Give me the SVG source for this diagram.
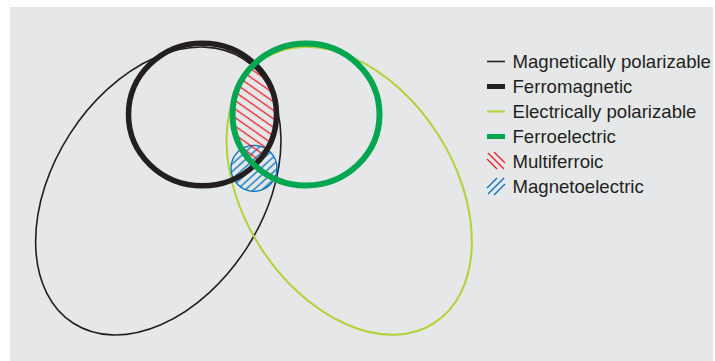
<svg xmlns="http://www.w3.org/2000/svg" width="715" height="361" viewBox="0 0 715 361">
<style>
.thin{fill:none;stroke:#231f20;stroke-width:1.6}
.thick{fill:none;stroke:#231f20;stroke-width:5.5}
.elec{fill:none;stroke:#b2d235;stroke-width:2}
.ferro{fill:none;stroke:#00a650;stroke-width:6}
.lbl{font-family:"Liberation Sans",Arial,Helvetica,sans-serif;font-size:18.6px;fill:#231f20}
.red{stroke:#ed1c24;stroke-width:1.3}
.blue{stroke:#0072bc;stroke-width:1.3}
</style>
<defs>
<pattern id="redHatch" patternUnits="userSpaceOnUse" width="10" height="7" patternTransform="rotate(35)">
<line x1="0" y1="3.5" x2="10" y2="3.5" class="red"/>
</pattern>
<pattern id="blueHatch" patternUnits="userSpaceOnUse" width="10" height="5.6" patternTransform="rotate(-42)">
<line x1="0" y1="2.8" x2="10" y2="2.8" class="blue"/>
</pattern>
<clipPath id="clipGreen">
<ellipse cx="306" cy="114.5" rx="73.5" ry="71"/>
</clipPath>
</defs>
<rect x="10" y="7" width="703" height="354" fill="#e6e7e8"/>
<g id="magnetically-polarizable">
<ellipse class="thin" cx="158.3" cy="191" rx="157.2" ry="105.2" transform="rotate(-57.3 158.3 191)"/>
</g>
<g id="electrically-polarizable">
<ellipse class="elec" cx="349.2" cy="190.8" rx="157.2" ry="105.2" transform="rotate(57.3 349.2 190.8)"/>
</g>
<g id="magnetoelectric">
<circle cx="254" cy="168.3" r="23" fill="url(#blueHatch)" stroke="#0072bc" stroke-width="1.3"/>
</g>
<g id="multiferroic" clip-path="url(#clipGreen)">
<ellipse cx="202.5" cy="114.5" rx="74" ry="71.3" fill="url(#redHatch)"/>
</g>
<g id="ferromagnetic">
<ellipse class="thick" cx="202.5" cy="114.5" rx="74" ry="71.3"/>
</g>
<g id="ferroelectric">
<ellipse class="ferro" cx="306" cy="114.5" rx="73.5" ry="71"/>
</g>
<g id="legend">
<line x1="487" y1="61.5" x2="505" y2="61.5" stroke="#231f20" stroke-width="1.6"/>
<text class="lbl" x="512.5" y="68">Magnetically polarizable</text>
<line x1="487" y1="86.5" x2="505" y2="86.5" stroke="#231f20" stroke-width="5"/>
<text class="lbl" x="512.5" y="93">Ferromagnetic</text>
<line x1="487" y1="111.5" x2="505" y2="111.5" stroke="#b2d235" stroke-width="2"/>
<text class="lbl" x="512.5" y="118">Electrically polarizable</text>
<line x1="487" y1="136.5" x2="505" y2="136.5" stroke="#00a650" stroke-width="5"/>
<text class="lbl" x="512.5" y="143">Ferroelectric</text>
<line x1="494" y1="152" x2="505" y2="163" class="red"/>
<line x1="488" y1="153" x2="504" y2="169" class="red"/>
<line x1="487" y1="159" x2="497" y2="169" class="red"/>
<text class="lbl" x="512.5" y="168">Multiferroic</text>
<line x1="487" y1="188" x2="497" y2="178" class="blue"/>
<line x1="488" y1="194" x2="504" y2="178" class="blue"/>
<line x1="494" y1="195" x2="505" y2="184" class="blue"/>
<text class="lbl" x="512.5" y="193">Magnetoelectric</text>
</g>
</svg>
